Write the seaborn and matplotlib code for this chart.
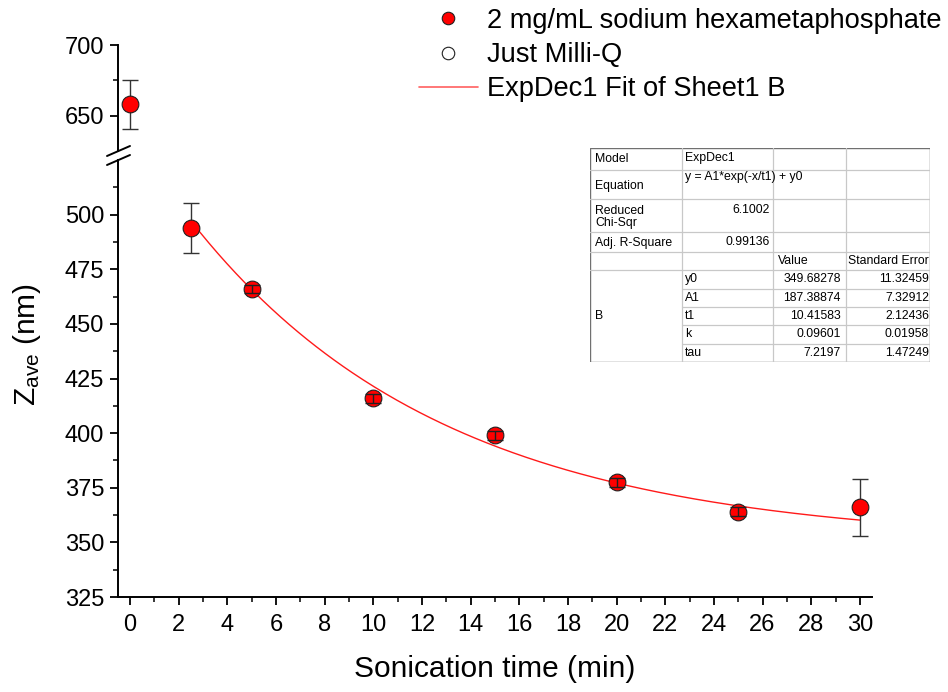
import numpy as np
import pandas as pd
import matplotlib
matplotlib.use("Agg")
import matplotlib.pyplot as plt
from matplotlib.lines import Line2D
import seaborn as sns

# ---------------- data ----------------
time_min = [0, 2.5, 5, 10, 15, 20, 25, 30]
zave_nm = [658, 494, 466, 416, 399, 377.5, 364, 366]
zave_err = [17.5, 11.5, 2, 2, 2, 2, 2, 13]

fit_y0 = 349.68278
fit_A1 = 187.38874
fit_t1 = 10.41583
fit_range = [2.5, 30]

x_ticks = list(range(0, 31, 2))
y_ticks_low = [325, 350, 375, 400, 425, 450, 475, 500]
y_ticks_high = [650, 700]

legend_labels = ["2 mg/mL sodium hexametaphosphate", "Just Milli-Q", "ExpDec1 Fit of Sheet1 B"]

table_model = ["Model", "ExpDec1"]
table_equation = ["Equation", "y = A1*exp(-x/t1) + y0"]
table_chisqr = ["Reduced\nChi-Sqr", "6.1002"]
table_r2 = ["Adj. R-Square", "0.99136"]
table_header = ["Value", "Standard Error"]
param_names = ["y0", "A1", "t1", "k", "tau"]
param_values = ["349.68278", "187.38874", "10.41583", "0.09601", "7.2197"]
param_errors = ["11.32459", "7.32912", "2.12436", "0.01958", "1.47249"]

# ---------------- style ----------------
sns.set_style("ticks")
plt.rcParams["font.family"] = ["Liberation Sans", "DejaVu Sans"]
plt.rcParams["mathtext.fontset"] = "custom"
plt.rcParams["mathtext.rm"] = "Liberation Sans"
plt.rcParams["mathtext.it"] = "Liberation Sans"
plt.rcParams["text.color"] = "black"
plt.rcParams["axes.labelcolor"] = "black"
plt.rcParams["xtick.color"] = "black"
plt.rcParams["ytick.color"] = "black"

W, H = 948, 692
fig = plt.figure(figsize=(W / 100, H / 100), dpi=100)
fig.patch.set_facecolor("white")


def rect(x0, y0, x1, y1):
    return [x0 / W, 1 - y1 / H, (x1 - x0) / W, (y1 - y0) / H]


ax_hi = fig.add_axes(rect(118, 45, 872, 151))
ax_lo = fig.add_axes(rect(118, 160, 872, 597))

df = pd.DataFrame({"t": time_min, "z": zave_nm, "err": zave_err})
fit_x = np.linspace(fit_range[0], fit_range[1], 300)
fit_df = pd.DataFrame({"t": fit_x, "z": fit_A1 * np.exp(-fit_x / fit_t1) + fit_y0})

big = df[df["err"] > 5]
small = df[df["err"] <= 5]

for ax in (ax_hi, ax_lo):
    ax.set_facecolor("white")
    sns.lineplot(data=fit_df, x="t", y="z", ax=ax, color="#ff1a1a", lw=1.0, zorder=2)
    ax.errorbar(big["t"], big["z"], yerr=big["err"], fmt="none", ecolor="#333333",
                elinewidth=1.0, capsize=6, capthick=1.0, zorder=2)
    sns.scatterplot(data=df, x="t", y="z", ax=ax, s=145, color="red",
                    edgecolor="#202020", linewidth=0.8, zorder=3)
    ax.errorbar(small["t"], small["z"], yerr=small["err"], fmt="none", ecolor="#202020",
                elinewidth=1.0, capsize=6, capthick=1.0, zorder=4)
    ax.set_xlim(-0.5, 30.5)
    ax.set_xlabel("")
    ax.set_ylabel("")
    for s in ("top", "right"):
        ax.spines[s].set_visible(False)
    ax.spines["left"].set_linewidth(1.4)
    ax.spines["bottom"].set_linewidth(1.4)
    ax.spines["left"].set_color("black")
    ax.spines["bottom"].set_color("black")
    ax.tick_params(which="major", direction="out", length=6, width=1.3, labelsize=17,
                   colors="black", pad=4)
    ax.tick_params(which="minor", direction="out", length=3.5, width=1.1, colors="black")

# upper part
ax_hi.set_ylim(625, 700)
ax_hi.set_yticks(y_ticks_high)
ax_hi.set_yticks([675], minor=True)
ax_hi.spines["bottom"].set_visible(False)
ax_hi.tick_params(axis="x", which="both", bottom=False, labelbottom=False)

# lower part
ax_lo.set_ylim(325, 525)
ax_lo.set_yticks(y_ticks_low)
ax_lo.set_yticks(np.arange(337.5, 525, 25), minor=True)
ax_lo.set_xticks(x_ticks)
ax_lo.set_xticks(range(1, 31, 2), minor=True)
ax_lo.tick_params(axis="x", which="major", pad=6)

ax_lo.set_xlabel("Sonication time (min)", fontsize=21.5, labelpad=14, color="black")
fig.text(27 / W, 1 - 345 / H, r"Z$_{\mathrm{ave}}$ (nm)", rotation=90, fontsize=21.5,
         ha="center", va="center", color="black")

# break marks
for yb in (151, 160):
    fig.add_artist(Line2D([107 / W, 130 / W], [1 - (yb + 5) / H, 1 - (yb - 5) / H],
                          color="black", lw=1.4))

# legend
handles = [
    Line2D([], [], marker="o", ls="none", markersize=9, markerfacecolor="red",
           markeredgecolor="#202020", markeredgewidth=0.8),
    Line2D([], [], marker="o", ls="none", markersize=9, markerfacecolor="white",
           markeredgecolor="#202020", markeredgewidth=0.8),
    Line2D([], [], color="#ff6060", lw=1.2),
]
fig.legend(handles, legend_labels, loc="upper left", bbox_to_anchor=(419 / W, 1 - 8 / H),
           frameon=False, fontsize=19.6, handlelength=2.15, handletextpad=0.35,
           labelspacing=0.3, borderpad=0, borderaxespad=0, labelcolor="black")

# fit table
tx0, tx1, ty0, ty1 = 590, 930, 148, 362
axt = fig.add_axes(rect(tx0, ty0, tx1, ty1))
axt.set_xlim(tx0, tx1)
axt.set_ylim(ty1, ty0)
axt.axis("off")
axt.add_patch(plt.Rectangle((tx0, ty0), tx1 - tx0, ty1 - ty0, facecolor="white",
                            edgecolor="#707070", lw=1.0))
cols = [590, 682, 773, 846, 930]
rows = [148, 170, 199, 232, 252, 270, 289, 307, 325, 344, 362]
gc = "#c8c8c8"
for c in cols[1:-1]:
    axt.plot([c, c], [ty0, ty1], color=gc, lw=0.9)
for r in rows[1:-1]:
    if r > 270:
        axt.plot([cols[1], tx1], [r, r], color=gc, lw=0.9)
    else:
        axt.plot([tx0, tx1], [r, r], color=gc, lw=0.9)
fs = 8.8
axt.text(595, 159, table_model[0], fontsize=fs, va="center")
axt.text(685, 158, table_model[1], fontsize=fs, va="center")
axt.text(595, 186, table_equation[0], fontsize=fs, va="center")
axt.text(685, 177, table_equation[1], fontsize=fs, va="center")
axt.text(595, 217, table_chisqr[0], fontsize=fs, va="center", linespacing=1.05)
axt.text(770, 210, table_chisqr[1], fontsize=fs, va="center", ha="right")
axt.text(595, 243, table_r2[0], fontsize=fs, va="center")
axt.text(770, 242, table_r2[1], fontsize=fs, va="center", ha="right")
axt.text(778, 261, table_header[0], fontsize=fs, va="center")
axt.text(848, 261, table_header[1], fontsize=fs, va="center")
axt.text(595, 316, "B", fontsize=fs, va="center")
for i, (n, v, e) in enumerate(zip(param_names, param_values, param_errors)):
    yc = (rows[5 + i] + rows[6 + i]) / 2
    axt.text(685, yc, n, fontsize=fs, va="center")
    axt.text(841, yc, v, fontsize=fs, va="center", ha="right")
    axt.text(929, yc, e, fontsize=fs, va="center", ha="right", clip_on=True)

fig.savefig("out.png", dpi=100, facecolor="white")
